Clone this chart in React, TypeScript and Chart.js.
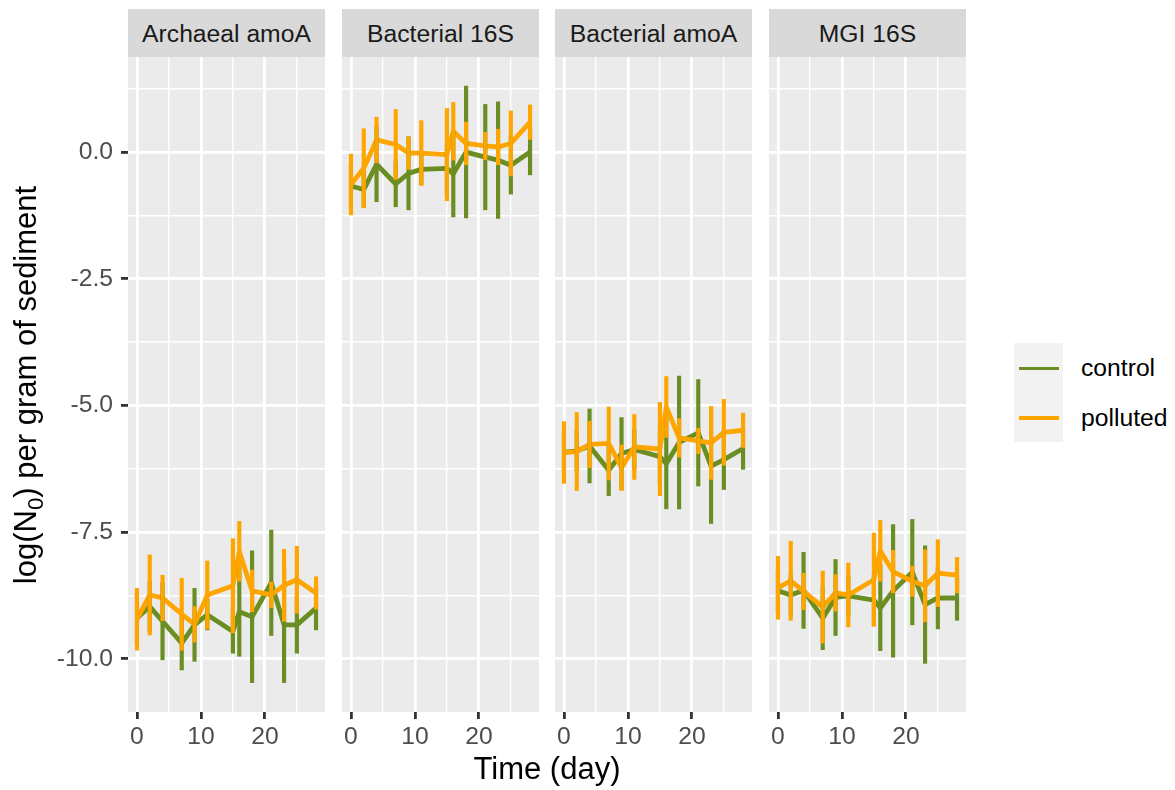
import React, { useEffect, useRef } from "react";
import { Chart, registerables } from "chart.js";

Chart.register(...registerables);

const FONT = '"Liberation Sans", Arial, Helvetica, sans-serif';
const GREEN = "#6B8E23";
const ORANGE = "#FFA500";

// ---- data ----
const days = [0, 2, 4, 7, 9, 11, 15, 16, 18, 21, 23, 25, 28];
const panelTitles = ["Archaeal amoA", "Bacterial 16S", "Bacterial amoA", "MGI 16S"];
const groupNames = ["control", "polluted"];

const xTickValues = [0, 5, 10, 15, 20, 25];
const xLabelled = [0, 10, 20];
const yTickValues = [-10, -8.75, -7.5, -6.25, -5, -3.75, -2.5, -1.25, 0, 1.25];
const yLabelled = [-10, -7.5, -5, -2.5, 0];

// Archaeal amoA
const archaealControlMean = [-9.2, -8.97, -9.26, -9.69, -9.33, -9.13, -9.46, -9.07, -9.17, -8.5, -9.33, -9.33, -9.0];
const archaealControlErr = [0.5, 0.5, 0.76, 0.53, 0.72, 0.3, 0.43, 0.88, 1.3, 1.04, 1.14, 0.56, 0.43];
const archaealPollutedMean = [-9.22, -8.74, -8.8, -9.12, -9.32, -8.74, -8.56, -7.88, -8.66, -8.74, -8.55, -8.44, -8.7];
const archaealPollutedErr = [0.61, 0.79, 0.45, 0.71, 0.35, 0.67, 0.93, 0.59, 0.41, 0.25, 0.71, 0.66, 0.32];

// Bacterial 16S
const bac16sControlMean = [-0.67, -0.74, -0.24, -0.63, -0.42, -0.34, -0.32, -0.43, 0.0, -0.1, -0.16, -0.26, 0.0];
const bac16sControlErr = [0.45, 0.35, 0.74, 0.45, 0.72, 0.3, 0.5, 0.85, 1.3, 1.04, 1.15, 0.57, 0.45];
const bac16sPollutedMean = [-0.64, -0.32, 0.24, 0.15, -0.02, -0.02, -0.05, 0.41, 0.17, 0.12, 0.1, 0.17, 0.59];
const bac16sPollutedErr = [0.6, 0.78, 0.45, 0.69, 0.32, 0.64, 0.91, 0.57, 0.42, 0.27, 0.35, 0.64, 0.34];

// Bacterial amoA
const bacAmoControlMean = [-5.92, -5.9, -5.8, -6.28, -5.95, -5.87, -6.01, -6.15, -5.73, -5.54, -6.2, -6.07, -5.85];
const bacAmoControlErr = [0.4, 0.4, 0.73, 0.5, 0.71, 0.4, 0.5, 0.89, 1.31, 1.05, 1.13, 0.59, 0.41];
const bacAmoPollutedMean = [-5.93, -5.91, -5.77, -5.75, -6.23, -5.82, -5.86, -5.03, -5.64, -5.7, -5.74, -5.53, -5.49];
const bacAmoPollutedErr = [0.61, 0.77, 0.46, 0.72, 0.45, 0.64, 0.92, 0.6, 0.38, 0.25, 0.72, 0.65, 0.34];

// MGI 16S
const mgiControlMean = [-8.66, -8.74, -8.65, -9.2, -8.79, -8.76, -8.84, -9.0, -8.66, -8.29, -8.93, -8.8, -8.8];
const mgiControlErr = [0.4, 0.4, 0.75, 0.62, 0.75, 0.4, 0.5, 0.84, 1.31, 1.04, 1.16, 0.61, 0.44];
const mgiPollutedMean = [-8.6, -8.46, -8.67, -8.98, -8.7, -8.74, -8.44, -7.87, -8.28, -8.47, -8.56, -8.31, -8.35];
const mgiPollutedErr = [0.62, 0.78, 0.36, 0.71, 0.36, 0.63, 0.92, 0.6, 0.42, 0.3, 0.71, 0.66, 0.35];

const panelSeries = [
  [archaealControlMean, archaealControlErr, archaealPollutedMean, archaealPollutedErr],
  [bac16sControlMean, bac16sControlErr, bac16sPollutedMean, bac16sPollutedErr],
  [bacAmoControlMean, bacAmoControlErr, bacAmoPollutedMean, bacAmoPollutedErr],
  [mgiControlMean, mgiControlErr, mgiPollutedMean, mgiPollutedErr],
];

// ---- layout ----
const PANEL_LEFTS = [128, 342, 555, 769];
const PANEL_W = 197;
const PANEL_TOP = 57;
const PLOT_H = 655;
const XAXIS_H = 48;
const X_MIN = -1.4;
const X_MAX = 29.4;
const Y_MIN = -11.05;
const Y_MAX = 1.876;

const isMajorX = (v: number) => xLabelled.includes(v);
const isMajorY = (v: number) => yLabelled.includes(v);

const panelBg = {
  id: "panelBg",
  beforeDraw(chart: any) {
    const { ctx, chartArea } = chart;
    if (!chartArea) return;
    ctx.save();
    ctx.fillStyle = "#EBEBEB";
    ctx.fillRect(chartArea.left, chartArea.top, chartArea.right - chartArea.left, chartArea.bottom - chartArea.top);
    ctx.restore();
  },
};

function makeConfig(p: number): any {
  const showY = p === 0;
  const [cm, ce, pm, pe] = panelSeries[p];
  const bars = (m: number[], e: number[]) => days.map((d, i) => ({ x: d, y: [m[i] - e[i], m[i] + e[i]] }));
  const pts = (m: number[]) => days.map((d, i) => ({ x: d, y: m[i] }));
  return {
    type: "line",
    data: {
      datasets: [
        { type: "bar", label: groupNames[1], data: bars(pm, pe), backgroundColor: ORANGE, borderWidth: 0, barThickness: 3.5, grouped: false, order: 0 },
        { type: "bar", label: groupNames[0], data: bars(cm, ce), backgroundColor: GREEN, borderWidth: 0, barThickness: 3.5, grouped: false, order: 1 },
        { type: "line", label: groupNames[1], data: pts(pm), borderColor: ORANGE, borderWidth: 4.8, pointRadius: 0, borderJoinStyle: "round", tension: 0, order: 2 },
        { type: "line", label: groupNames[0], data: pts(cm), borderColor: GREEN, borderWidth: 4.8, pointRadius: 0, borderJoinStyle: "round", tension: 0, order: 3 },
      ],
    },
    options: {
      responsive: false,
      maintainAspectRatio: false,
      animation: false,
      events: [],
      layout: { padding: 0 },
      plugins: { legend: { display: false }, tooltip: { enabled: false }, title: { display: false } },
      scales: {
        x: {
          type: "linear",
          min: X_MIN,
          max: X_MAX,
          offset: false,
          afterBuildTicks: (s: any) => {
            s.ticks = xTickValues.map((v) => ({ value: v }));
          },
          afterFit: (s: any) => {
            s.height = XAXIS_H;
            s.paddingLeft = 0;
            s.paddingRight = 0;
          },
          border: { display: false },
          grid: {
            offset: false,
            color: "#FFFFFF",
            lineWidth: (c: any) => (c.tick && isMajorX(c.tick.value) ? 2.8 : 1.4),
            drawTicks: true,
            tickLength: 7,
            tickWidth: 2.8,
            tickColor: (c: any) => (c.tick && isMajorX(c.tick.value) ? "#333333" : "rgba(0,0,0,0)"),
          },
          ticks: {
            autoSkip: false,
            maxRotation: 0,
            minRotation: 0,
            padding: 3,
            color: "#4D4D4D",
            font: { family: FONT, size: 24.7 },
            callback: (v: any) => (isMajorX(v) ? String(v) : ""),
          },
        },
        y: {
          type: "linear",
          min: Y_MIN,
          max: Y_MAX,
          afterBuildTicks: (s: any) => {
            s.ticks = yTickValues.map((v) => ({ value: v }));
          },
          afterFit: (s: any) => {
            s.width = showY ? PANEL_LEFTS[0] : 0;
            s.paddingTop = 0;
            s.paddingBottom = 0;
          },
          border: { display: false },
          grid: {
            color: "#FFFFFF",
            lineWidth: (c: any) => (c.tick && isMajorY(c.tick.value) ? 2.8 : 1.4),
            drawTicks: showY,
            tickLength: 7,
            tickWidth: 2.8,
            tickColor: (c: any) => (c.tick && isMajorY(c.tick.value) ? "#333333" : "rgba(0,0,0,0)"),
          },
          ticks: {
            display: showY,
            autoSkip: false,
            padding: 8,
            color: "#4D4D4D",
            font: { family: FONT, size: 24.7 },
            callback: (v: any) => (isMajorY(v) ? Number(v).toFixed(1) : ""),
          },
        },
      },
    },
    plugins: [panelBg],
  };
}

function Panel({ index }: { index: number }) {
  const ref = useRef<HTMLCanvasElement>(null);
  useEffect(() => {
    if (!ref.current) return;
    const chart = new Chart(ref.current, makeConfig(index));
    return () => chart.destroy();
  }, [index]);
  const showY = index === 0;
  const left = showY ? 0 : PANEL_LEFTS[index];
  const width = showY ? PANEL_LEFTS[0] + PANEL_W : PANEL_W;
  const height = PLOT_H + XAXIS_H;
  return (
    <canvas
      ref={ref}
      width={width}
      height={height}
      style={{ position: "absolute", left, top: PANEL_TOP, width, height }}
    />
  );
}

export default function App() {
  return (
    <div
      style={{
        position: "absolute",
        left: 0,
        top: 0,
        width: 1175,
        height: 790,
        overflow: "hidden",
        background: "#FFFFFF",
        fontFamily: FONT,
      }}
    >
      {panelTitles.map((t, i) => (
        <div
          key={t}
          style={{
            position: "absolute",
            left: PANEL_LEFTS[i],
            top: 9,
            width: PANEL_W,
            height: 48,
            background: "#D9D9D9",
            color: "#1A1A1A",
            fontSize: 24.7,
            lineHeight: "50px",
            textAlign: "center",
            whiteSpace: "nowrap",
          }}
        >
          {t}
        </div>
      ))}
      {panelTitles.map((t, i) => (
        <Panel key={"p" + t} index={i} />
      ))}
      {/* y axis title */}
      <div
        style={{
          position: "absolute",
          left: 26 - 300,
          top: 385 - 18,
          width: 600,
          height: 36,
          lineHeight: "36px",
          fontSize: 31,
          color: "#000000",
          textAlign: "center",
          whiteSpace: "nowrap",
          transform: "rotate(-90deg)",
        }}
      >
        log(N<span style={{ fontSize: "0.72em", position: "relative", top: "0.3em" }}>0</span>) per gram of sediment
      </div>
      {/* x axis title */}
      <div
        style={{
          position: "absolute",
          left: 128,
          top: 751,
          width: 838,
          height: 36,
          lineHeight: "36px",
          fontSize: 31,
          color: "#000000",
          textAlign: "center",
          whiteSpace: "nowrap",
        }}
      >
        Time (day)
      </div>
      {/* legend */}
      <div style={{ position: "absolute", left: 1014, top: 343, width: 49, height: 99, background: "#F2F2F2" }} />
      {groupNames.map((g, i) => (
        <React.Fragment key={g}>
          <div
            style={{
              position: "absolute",
              left: 1019,
              top: 366.5 + i * 49.5,
              width: 40,
              height: 3.5,
              background: i === 0 ? GREEN : ORANGE,
            }}
          />
          <div
            style={{
              position: "absolute",
              left: 1081,
              top: 353 + i * 50,
              height: 30,
              lineHeight: "30px",
              fontSize: 24.7,
              color: "#000000",
              whiteSpace: "nowrap",
            }}
          >
            {g}
          </div>
        </React.Fragment>
      ))}
    </div>
  );
}
